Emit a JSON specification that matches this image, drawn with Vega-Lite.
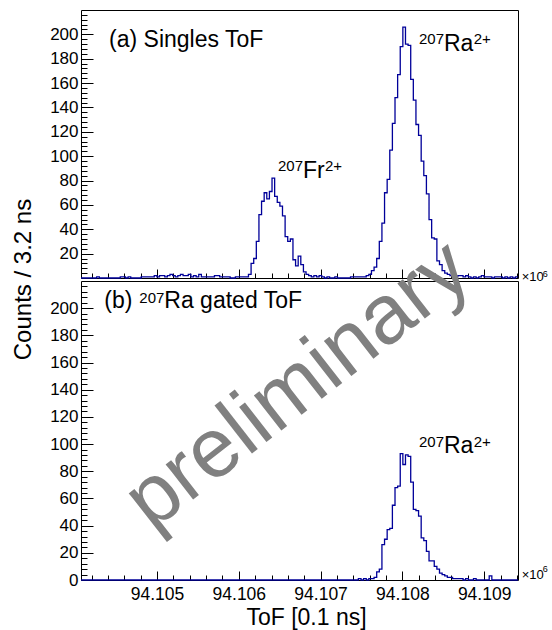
{
"$schema": "https://vega.github.io/schema/vega-lite/v6.json",
"padding": {"left": 10, "top": 9, "right": 0, "bottom": 0},
"bounds": "flush",
"spacing": 3,
"config": {
  "font": "Liberation Sans",
  "view": {"stroke": "#000", "strokeWidth": 1},
  "axis": {"grid": false, "domain": false, "tickColor": "#000", "tickWidth": 1, "labelColor": "#000", "titleColor": "#000", "labelFont": "Liberation Sans", "titleFont": "Liberation Sans", "titleFontWeight": "normal"},
  "text": {"font": "Liberation Sans", "color": "#000", "align": "left", "baseline": "alphabetic"}
},
"data": {"values": [
{"x":94.104070,"a":0,"b":0},{"x":94.104102,"a":0,"b":0},{"x":94.104134,"a":0,"b":0},{"x":94.104166,"a":0,"b":0},{"x":94.104198,"a":0,"b":0},
{"x":94.104230,"a":0,"b":0},{"x":94.104262,"a":1,"b":0},{"x":94.104294,"a":0,"b":0},{"x":94.104326,"a":0,"b":0},{"x":94.104358,"a":0,"b":0},
{"x":94.104390,"a":0,"b":0},{"x":94.104422,"a":0,"b":0},{"x":94.104454,"a":0,"b":0},{"x":94.104486,"a":0,"b":0},{"x":94.104518,"a":0,"b":0},
{"x":94.104550,"a":1,"b":0},{"x":94.104582,"a":1,"b":0},{"x":94.104614,"a":0,"b":0},{"x":94.104646,"a":1,"b":0},{"x":94.104678,"a":0,"b":0},
{"x":94.104710,"a":0,"b":0},{"x":94.104742,"a":0,"b":0},{"x":94.104774,"a":0,"b":0},{"x":94.104806,"a":1,"b":0},{"x":94.104838,"a":1,"b":0},
{"x":94.104870,"a":1,"b":0},{"x":94.104902,"a":1,"b":0},{"x":94.104934,"a":1,"b":0},{"x":94.104966,"a":2,"b":0},{"x":94.104998,"a":1,"b":0},
{"x":94.105030,"a":2,"b":0},{"x":94.105062,"a":2,"b":0},{"x":94.105094,"a":1,"b":0},{"x":94.105126,"a":2,"b":0},{"x":94.105158,"a":3,"b":0},
{"x":94.105190,"a":2,"b":0},{"x":94.105222,"a":1,"b":0},{"x":94.105254,"a":2,"b":0},{"x":94.105286,"a":3,"b":0},{"x":94.105318,"a":2,"b":0},
{"x":94.105350,"a":2,"b":0},{"x":94.105382,"a":3,"b":0},{"x":94.105414,"a":1,"b":0},{"x":94.105446,"a":2,"b":0},{"x":94.105478,"a":1,"b":0},
{"x":94.105510,"a":3,"b":0},{"x":94.105542,"a":1,"b":0},{"x":94.105574,"a":1,"b":0},{"x":94.105606,"a":1,"b":0},{"x":94.105638,"a":1,"b":0},
{"x":94.105670,"a":1,"b":0},{"x":94.105702,"a":2,"b":0},{"x":94.105734,"a":2,"b":0},{"x":94.105766,"a":1,"b":0},{"x":94.105798,"a":1,"b":0},
{"x":94.105830,"a":1,"b":0},{"x":94.105862,"a":1,"b":0},{"x":94.105894,"a":0,"b":0},{"x":94.105926,"a":0,"b":0},{"x":94.105958,"a":1,"b":0},
{"x":94.105990,"a":1,"b":0},{"x":94.106022,"a":1,"b":0},{"x":94.106054,"a":1,"b":0},{"x":94.106086,"a":1,"b":0},{"x":94.106118,"a":3,"b":0},
{"x":94.106150,"a":12,"b":0},{"x":94.106182,"a":16,"b":0},{"x":94.106214,"a":30,"b":0},{"x":94.106246,"a":52,"b":0},{"x":94.106278,"a":63,"b":0},
{"x":94.106310,"a":70,"b":0},{"x":94.106342,"a":65,"b":0},{"x":94.106374,"a":71,"b":0},{"x":94.106406,"a":82,"b":0},{"x":94.106438,"a":67,"b":0},
{"x":94.106470,"a":62,"b":0},{"x":94.106502,"a":59,"b":0},{"x":94.106534,"a":51,"b":0},{"x":94.106566,"a":34,"b":0},{"x":94.106598,"a":30,"b":0},
{"x":94.106630,"a":32,"b":0},{"x":94.106662,"a":15,"b":0},{"x":94.106694,"a":10,"b":0},{"x":94.106726,"a":18,"b":0},{"x":94.106758,"a":11,"b":0},
{"x":94.106790,"a":5,"b":0},{"x":94.106822,"a":3,"b":0},{"x":94.106854,"a":2,"b":0},{"x":94.106886,"a":1,"b":0},{"x":94.106918,"a":2,"b":0},
{"x":94.106950,"a":1,"b":0},{"x":94.106982,"a":2,"b":0},{"x":94.107014,"a":1,"b":0},{"x":94.107046,"a":0,"b":0},{"x":94.107078,"a":1,"b":0},
{"x":94.107110,"a":0,"b":0},{"x":94.107142,"a":0,"b":0},{"x":94.107174,"a":1,"b":0},{"x":94.107206,"a":0,"b":0},{"x":94.107238,"a":0,"b":0},
{"x":94.107270,"a":0,"b":0},{"x":94.107302,"a":0,"b":0},{"x":94.107334,"a":0,"b":0},{"x":94.107366,"a":1,"b":0},{"x":94.107398,"a":1,"b":0},
{"x":94.107430,"a":1,"b":0},{"x":94.107462,"a":1,"b":1},{"x":94.107494,"a":1,"b":0},{"x":94.107526,"a":1,"b":1},{"x":94.107558,"a":2,"b":0},
{"x":94.107590,"a":3,"b":1},{"x":94.107622,"a":6,"b":1},{"x":94.107654,"a":9,"b":2},{"x":94.107686,"a":16,"b":6},{"x":94.107718,"a":30,"b":8},
{"x":94.107750,"a":45,"b":26},{"x":94.107782,"a":70,"b":30},{"x":94.107814,"a":81,"b":37},{"x":94.107846,"a":105,"b":38},{"x":94.107878,"a":127,"b":55},
{"x":94.107910,"a":148,"b":68},{"x":94.107942,"a":167,"b":69},{"x":94.107974,"a":190,"b":93},{"x":94.108006,"a":206,"b":85},{"x":94.108038,"a":192,"b":92},
{"x":94.108070,"a":191,"b":91},{"x":94.108102,"a":163,"b":72},{"x":94.108134,"a":146,"b":52},{"x":94.108166,"a":126,"b":51},{"x":94.108198,"a":117,"b":47},
{"x":94.108230,"a":96,"b":31},{"x":94.108262,"a":84,"b":29},{"x":94.108294,"a":69,"b":21},{"x":94.108326,"a":48,"b":14},{"x":94.108358,"a":33,"b":14},
{"x":94.108390,"a":32,"b":10},{"x":94.108422,"a":14,"b":8},{"x":94.108454,"a":11,"b":5},{"x":94.108486,"a":6,"b":4},{"x":94.108518,"a":4,"b":3},
{"x":94.108550,"a":3,"b":2},{"x":94.108582,"a":2,"b":2},{"x":94.108614,"a":2,"b":1},{"x":94.108646,"a":1,"b":1},{"x":94.108678,"a":2,"b":1},
{"x":94.108710,"a":2,"b":1},{"x":94.108742,"a":1,"b":0},{"x":94.108774,"a":2,"b":1},{"x":94.108806,"a":1,"b":0},{"x":94.108838,"a":0,"b":0},
{"x":94.108870,"a":1,"b":1},{"x":94.108902,"a":0,"b":0},{"x":94.108934,"a":1,"b":0},{"x":94.108966,"a":2,"b":0},{"x":94.108998,"a":1,"b":0},
{"x":94.109030,"a":1,"b":0},{"x":94.109062,"a":1,"b":3},{"x":94.109094,"a":0,"b":0},{"x":94.109126,"a":1,"b":0},{"x":94.109158,"a":1,"b":0},
{"x":94.109190,"a":1,"b":0},{"x":94.109222,"a":0,"b":0},{"x":94.109254,"a":1,"b":0},{"x":94.109286,"a":0,"b":0},{"x":94.109318,"a":1,"b":0},
{"x":94.109350,"a":0,"b":0},{"x":94.109382,"a":1,"b":0},{"x":94.109414,"a":1,"b":0}
]},
"vconcat": [
{
  "width": 437, "height": 268,
  "resolve": {"axis": {"x": "independent", "y": "independent"}},
  "layer": [
    {
      "mark": {"type": "line", "interpolate": "step-after", "color": "#000099", "strokeWidth": 1.3},
      "encoding": {
        "x": {"field": "x", "type": "quantitative", "scale": {"domain": [94.10407, 94.109414], "nice": false, "zero": false},
              "axis": {"orient": "bottom", "values": [94.105, 94.106, 94.107, 94.108, 94.109], "labels": false, "tickSize": -9, "title": null}},
        "y": {"field": "a", "type": "quantitative", "scale": {"domain": [0, 220], "nice": false},
              "axis": {"orient": "left", "values": [20,40,60,80,100,120,140,160,180,200], "tickSize": -12, "labelPadding": 15, "labelFontSize": 17, "title": null}}
      }
    },
    {
      "data": {"values": [
        {"x": 94.104413, "y": 189.9, "t": "(a) Singles ToF"},
        {"x": 94.106785, "y": 82.3, "t": "Fr"},
        {"x": 94.108509, "y": 186.6, "t": "Ra"}
      ]},
      "mark": {"type": "text", "fontSize": 23},
      "encoding": {
        "x": {"field": "x", "type": "quantitative", "scale": {"domain": [94.10407, 94.109414], "nice": false, "zero": false},
              "axis": {"orient": "bottom", "values": [94.1042,94.1044,94.1046,94.1048,94.105,94.1052,94.1054,94.1056,94.1058,94.106,94.1062,94.1064,94.1066,94.1068,94.107,94.1072,94.1074,94.1076,94.1078,94.108,94.1082,94.1084,94.1086,94.1088,94.109,94.1092,94.1094], "labels": false, "tickSize": -5, "title": null}},
        "y": {"field": "y", "type": "quantitative", "scale": {"domain": [0, 220], "nice": false},
              "axis": {"orient": "left", "values": [4,8,12,16,20,24,28,32,36,40,44,48,52,56,60,64,68,72,76,80,84,88,92,96,100,104,108,112,116,120,124,128,132,136,140,144,148,152,156,160,164,168,172,176,180,184,188,192,196,200,204,208,212,216], "labels": false, "tickSize": -6, "title": null}},
        "text": {"field": "t", "type": "nominal"}
      }
    },
    {
      "data": {"values": [
        {"x": 94.106479, "y": 87.8, "t": "207"},
        {"x": 94.107054, "y": 87.8, "t": "2+"},
        {"x": 94.108203, "y": 192.1, "t": "207"},
        {"x": 94.108872, "y": 192.1, "t": "2+"}
      ]},
      "mark": {"type": "text", "fontSize": 15},
      "encoding": {
        "x": {"field": "x", "type": "quantitative", "axis": null},
        "y": {"field": "y", "type": "quantitative", "axis": null},
        "text": {"field": "t", "type": "nominal"}
      }
    },
    {
      "data": {"values": [{"x": 94.10946, "y": -2.2, "t": "×10"}]},
      "mark": {"type": "text", "fontSize": 13},
      "encoding": {
        "x": {"field": "x", "type": "quantitative", "axis": null},
        "y": {"field": "y", "type": "quantitative", "axis": null},
        "text": {"field": "t", "type": "nominal"}
      }
    },
    {
      "data": {"values": [{"x": 94.109716, "y": 1.07, "t": "6"}]},
      "mark": {"type": "text", "fontSize": 9},
      "encoding": {
        "x": {"field": "x", "type": "quantitative", "axis": null},
        "y": {"field": "y", "type": "quantitative", "axis": null},
        "text": {"field": "t", "type": "nominal"}
      }
    }
  ]
},
{
  "width": 437, "height": 299,
  "resolve": {"axis": {"x": "independent", "y": "independent"}},
  "layer": [
    {
      "mark": {"type": "line", "interpolate": "step-after", "color": "#000099", "strokeWidth": 1.3},
      "encoding": {
        "x": {"field": "x", "type": "quantitative", "scale": {"domain": [94.10407, 94.109414], "nice": false, "zero": false},
              "axis": {"orient": "bottom", "values": [94.105, 94.106, 94.107, 94.108, 94.109], "format": ".3f", "tickSize": -9, "labelPadding": 14, "labelFontSize": 17.5,
                       "title": "ToF [0.1 ns]", "titleFontSize": 23, "titleX": 225, "titleY": 37, "titleBaseline": "middle", "titleAlign": "center"}},
        "y": {"field": "b", "type": "quantitative", "scale": {"domain": [0, 220], "nice": false},
              "axis": {"orient": "left", "values": [0,20,40,60,80,100,120,140,160,180,200], "tickSize": -12, "labelPadding": 15, "labelFontSize": 17,
                       "title": "Counts / 3.2 ns", "titleFontSize": 24, "titleX": -58, "titleY": -2, "titleBaseline": "middle", "titleAlign": "center", "titleAngle": -90}}
      }
    },
    {
      "data": {"values": [
        {"x": 94.104355, "y": 200.1, "t": "(b)"},
        {"x": 94.105089, "y": 200.1, "t": "Ra gated ToF"},
        {"x": 94.108509, "y": 93.2, "t": "Ra"}
      ]},
      "mark": {"type": "text", "fontSize": 23},
      "encoding": {
        "x": {"field": "x", "type": "quantitative", "scale": {"domain": [94.10407, 94.109414], "nice": false, "zero": false},
              "axis": {"orient": "bottom", "values": [94.1042,94.1044,94.1046,94.1048,94.105,94.1052,94.1054,94.1056,94.1058,94.106,94.1062,94.1064,94.1066,94.1068,94.107,94.1072,94.1074,94.1076,94.1078,94.108,94.1082,94.1084,94.1086,94.1088,94.109,94.1092,94.1094], "labels": false, "tickSize": -5, "title": null}},
        "y": {"field": "y", "type": "quantitative", "scale": {"domain": [0, 220], "nice": false},
              "axis": {"orient": "left", "values": [4,8,12,16,20,24,28,32,36,40,44,48,52,56,60,64,68,72,76,80,84,88,92,96,100,104,108,112,116,120,124,128,132,136,140,144,148,152,156,160,164,168,172,176,180,184,188,192,196,200,204,208,212,216], "labels": false, "tickSize": -6, "title": null}},
        "text": {"field": "t", "type": "nominal"}
      }
    },
    {
      "data": {"values": [
        {"x": 94.104783, "y": 203.8, "t": "207"},
        {"x": 94.108203, "y": 98.1, "t": "207"},
        {"x": 94.108872, "y": 98.1, "t": "2+"}
      ]},
      "mark": {"type": "text", "fontSize": 15},
      "encoding": {
        "x": {"field": "x", "type": "quantitative", "axis": null},
        "y": {"field": "y", "type": "quantitative", "axis": null},
        "text": {"field": "t", "type": "nominal"}
      }
    },
    {
      "data": {"values": [{"x": 94.10946, "y": 0.74, "t": "×10"}]},
      "mark": {"type": "text", "fontSize": 13},
      "encoding": {
        "x": {"field": "x", "type": "quantitative", "axis": null},
        "y": {"field": "y", "type": "quantitative", "axis": null},
        "text": {"field": "t", "type": "nominal"}
      }
    },
    {
      "data": {"values": [{"x": 94.109716, "y": 5.6, "t": "6"}]},
      "mark": {"type": "text", "fontSize": 9},
      "encoding": {
        "x": {"field": "x", "type": "quantitative", "axis": null},
        "y": {"field": "y", "type": "quantitative", "axis": null},
        "text": {"field": "t", "type": "nominal"}
      }
    },
    {
      "data": {"values": [{"x": 94.106726, "y": 143, "t": "preliminary"}]},
      "mark": {"type": "text", "fontSize": 84, "align": "center", "baseline": "middle", "angle": -38, "color": "#808080"},
      "encoding": {
        "x": {"field": "x", "type": "quantitative", "axis": null},
        "y": {"field": "y", "type": "quantitative", "axis": null},
        "text": {"field": "t", "type": "nominal"}
      }
    }
  ]
}
]
}
